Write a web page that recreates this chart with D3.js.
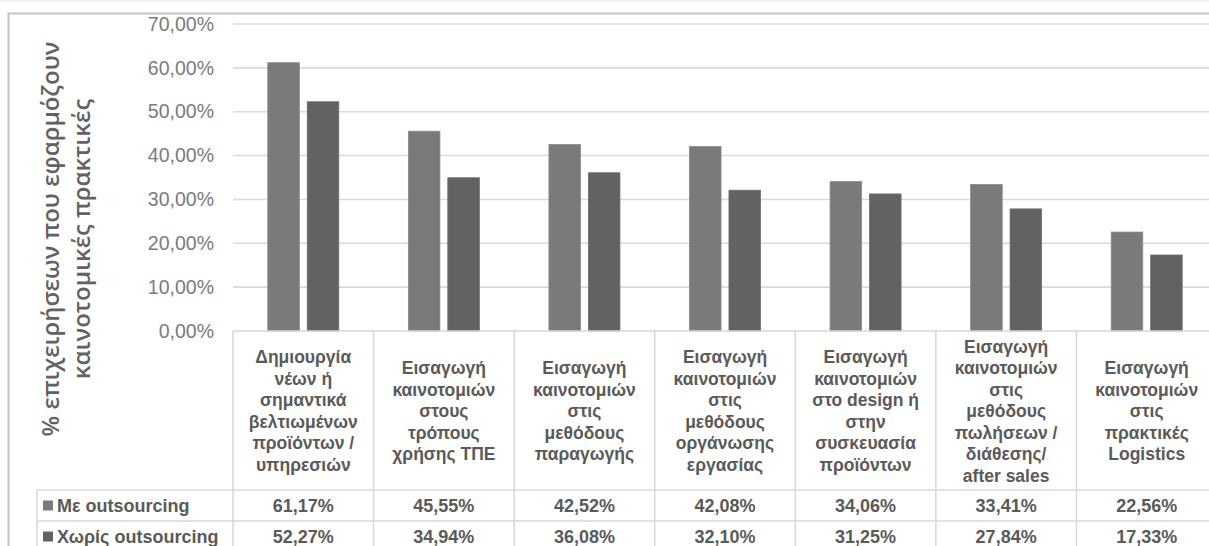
<!DOCTYPE html>
<html>
<head>
<meta charset="utf-8">
<script src="https://cdn.jsdelivr.net/npm/d3@7"></script>
<style>
  html, body { margin: 0; padding: 0; background: #fff; }
  svg { display: block; }
</style>
</head>
<body>
<svg id="chart"></svg>
<script>
// chart data
const categories = [
  ["Δημιουργία", "νέων ή", "σημαντικά", "βελτιωμένων", "προϊόντων /", "υπηρεσιών"],
  ["Εισαγωγή", "καινοτομιών", "στους", "τρόπους", "χρήσης ΤΠΕ"],
  ["Εισαγωγή", "καινοτομιών", "στις", "μεθόδους", "παραγωγής"],
  ["Εισαγωγή", "καινοτομιών", "στις", "μεθόδους", "οργάνωσης", "εργασίας"],
  ["Εισαγωγή", "καινοτομιών", "στο design ή", "στην", "συσκευασία", "προϊόντων"],
  ["Εισαγωγή", "καινοτομιών", "στις", "μεθόδους", "πωλήσεων /", "διάθεσης/", "after sales"],
  ["Εισαγωγή", "καινοτομιών", "στις", "πρακτικές", "Logistics"]
];
const seriesNames = ["Με outsourcing", "Χωρίς outsourcing"];
const withOutsourcing = [61.17, 45.55, 42.52, 42.08, 34.06, 33.41, 22.56];
const withoutOutsourcing = [52.27, 34.94, 36.08, 32.10, 31.25, 27.84, 17.33];
const yTicks = [0, 10, 20, 30, 40, 50, 60, 70];
const yTitle = ["% επιχειρήσεων που εφαρμόζουν", "καινοτομικές πρακτικές"];

const series = [withOutsourcing, withoutOutsourcing];
const colors = ["#7a7a7a", "#626262"];

this.width = 1209;
this.height = 546;

const svg = d3.select('#chart')
    .attr('width', width)
    .attr('height', height);

const grLocale = d3.formatLocale({ decimal: ",", thousands: ".", grouping: [3], currency: ["", "€"] });
const fmt = v => grLocale.format(".2f")(v) + "%";

const plotTop = 24, plotBottom = 331;
const tableLeft = 37, rowH = 31;

const x = d3.scaleBand()
    .domain(d3.range(categories.length))
    .range([233, 1217])
    .padding(0);

const xInner = d3.scaleBand()
    .domain(d3.range(series.length))
    .range([0, 71])
    .paddingInner(0.2);

const y = d3.scaleLinear()
    .domain([0, 70])
    .range([plotBottom, plotTop]);

// outer frame
svg.append('line').attr('x1', 0).attr('x2', width).attr('y1', 1).attr('y2', 1)
    .attr('stroke', '#f2f2f2').attr('stroke-width', 2);
svg.append('path')
    .attr('d', `M8.5,${height + 5}V13.5H${width + 5}`)
    .attr('fill', 'none')
    .attr('stroke', '#c4c4c4')
    .attr('stroke-width', 2);

// gridlines
svg.append('g')
    .selectAll('line')
    .data(yTicks.filter(d => d > 0))
    .join('line')
    .attr('x1', 233).attr('x2', width)
    .attr('y1', d => y(d)).attr('y2', d => y(d))
    .attr('stroke', '#dadada')
    .attr('stroke-width', 1.6);

// y axis labels
const yAxis = svg.append('g')
    .attr('transform', 'translate(214,0)')
    .call(d3.axisLeft(y).tickValues(yTicks).tickFormat(fmt).tickSize(0).tickPadding(0));
yAxis.select('.domain').remove();
yAxis.selectAll('text')
    .attr('fill', '#7b7b7b')
    .style('font-family', '"Liberation Sans", Arial, sans-serif')
    .style('font-size', '19.5px');

// y title
svg.append('text')
    .attr('transform', 'translate(67,239) rotate(-90)')
    .attr('text-anchor', 'middle')
    .attr('fill', '#626262')
    .style('font-family', '"Open Sans", sans-serif')
    .style('font-size', '24px')
    .style('font-weight', '600')
    .selectAll('tspan')
    .data(yTitle)
    .join('tspan')
    .attr('x', 0)
    .attr('y', (d, i) => i === 0 ? -8 : 23)
    .text(d => d);

// bars
svg.append('g')
    .selectAll('g')
    .data(series)
    .join('g')
    .attr('fill', (d, i) => colors[i])
    .attr('stroke', (d, i) => d3.color(colors[i]).brighter(0.3))
    .attr('stroke-width', 0.8)
    .each(function (vals, si) {
        d3.select(this).selectAll('rect')
            .data(vals)
            .join('rect')
            .attr('x', (d, i) => x(i) + (x.bandwidth() - 71) / 2 + xInner(si))
            .attr('width', xInner.bandwidth())
            .attr('y', d => y(d))
            .attr('height', d => y(0) - y(d));
    });

// data table grid
const grid = svg.append('g')
    .attr('stroke', '#d9d9d9')
    .attr('stroke-width', 1.6);
grid.append('line').attr('x1', 233).attr('x2', width).attr('y1', plotBottom).attr('y2', plotBottom);
const rowLines = [490, 490 + rowH, 490 + 2 * rowH];
grid.selectAll('.hrow')
    .data(rowLines)
    .join('line')
    .attr('x1', tableLeft).attr('x2', width)
    .attr('y1', d => d).attr('y2', d => d);
grid.selectAll('.vcol')
    .data(d3.range(categories.length + 1))
    .join('line')
    .attr('x1', i => i < categories.length ? x(i) : x(categories.length - 1) + x.bandwidth())
    .attr('x2', i => i < categories.length ? x(i) : x(categories.length - 1) + x.bandwidth())
    .attr('y1', plotBottom).attr('y2', height + 5);
grid.append('line').attr('x1', tableLeft).attr('x2', tableLeft).attr('y1', 490).attr('y2', height + 5);

// category labels
const lineH = 21.5;
const catMid = 411;
svg.append('g')
    .selectAll('text')
    .data(categories)
    .join('text')
    .attr('text-anchor', 'middle')
    .attr('fill', '#5a5a5a')
    .style('font-family', '"Liberation Sans", Arial, sans-serif')
    .style('font-size', '17.5px')
    .style('font-weight', 'bold')
    .each(function (lines, i) {
        const cx = x(i) + x.bandwidth() / 2;
        const y0 = catMid - (lines.length - 1) * lineH / 2;
        d3.select(this).selectAll('tspan')
            .data(lines)
            .join('tspan')
            .attr('x', cx)
            .attr('y', (d, j) => y0 + j * lineH)
            .attr('dy', '0.35em')
            .text(d => d);
    });

// table rows: legend keys + values
const rows = svg.append('g')
    .selectAll('g')
    .data(series)
    .join('g')
    .attr('transform', (d, i) => `translate(0,${490 + i * rowH + rowH / 2})`);

rows.append('rect')
    .attr('x', 43).attr('y', -5)
    .attr('width', 10).attr('height', 10)
    .attr('fill', (d, i) => colors[i]);

rows.append('text')
    .attr('x', 57)
    .attr('dy', '0.36em')
    .attr('fill', '#5a5a5a')
    .style('font-family', '"Liberation Sans", Arial, sans-serif')
    .style('font-size', '18px')
    .style('font-weight', 'bold')
    .text((d, i) => seriesNames[i]);

rows.selectAll('.val')
    .data(d => d)
    .join('text')
    .attr('x', (d, i) => x(i) + x.bandwidth() / 2)
    .attr('dy', '0.36em')
    .attr('text-anchor', 'middle')
    .attr('fill', '#5a5a5a')
    .style('font-family', '"Liberation Sans", Arial, sans-serif')
    .style('font-size', '18px')
    .style('font-weight', 'bold')
    .text(d => fmt(d));
</script>
</body>
</html>
